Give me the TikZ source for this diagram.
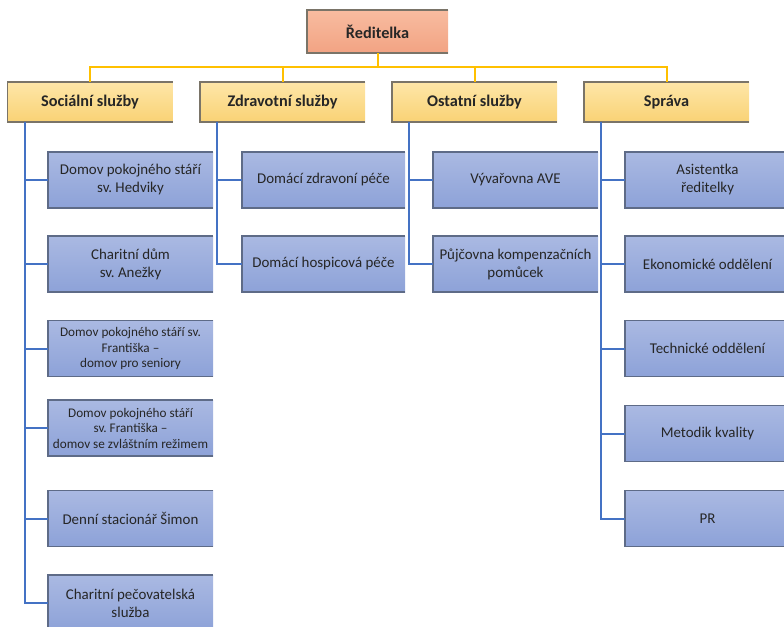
\documentclass[tikz,border=0pt]{standalone}
\usepackage{fontspec}
\setmainfont{Carlito}
\frenchspacing
\begin{document}
\begin{tikzpicture}[x=0.75pt,y=-0.75pt,
  every node/.style={inner sep=0pt, outer sep=0pt, text=black!85, align=center},
  topbox/.style={rectangle, minimum width=105.75pt, minimum height=32.25pt,
     top color=orgtop, bottom color=orgbot, font=\bfseries\fontsize{12.2}{14}\selectfont},
  headbox/.style={rectangle, minimum width=123.75pt, minimum height=30pt,
     top color=yeltop, bottom color=yelbot, font=\bfseries\fontsize{12.2}{14}\selectfont},
  subbox/.style={rectangle, minimum width=123.75pt, minimum height=42pt,
     top color=blutop, bottom color=blubot, font=\fontsize{11.2}{13.5}\selectfont},
  small/.style={font=\fontsize{9.9}{11.6}\selectfont},
  yel/.style={draw=yelline, line width=1.5pt},
  blu/.style={draw=bluline, line width=1.5pt}
]
\definecolor{orgtop}{HTML}{F8BCA0}
\definecolor{orgbot}{HTML}{F2A383}
\definecolor{yeltop}{HTML}{FEE6A8}
\definecolor{yelbot}{HTML}{F9D275}
\definecolor{blutop}{HTML}{AAB9E2}
\definecolor{blubot}{HTML}{8DA2D8}
\definecolor{yelline}{HTML}{FFC000}
\definecolor{bluline}{HTML}{4472C4}
\definecolor{bordr}{HTML}{7A7468}
\definecolor{bordb}{HTML}{5E6B87}

\useasboundingbox (0,0) rectangle (784,626);
\begin{scope}
\clip (0,0) rectangle (784,626);

% top
\node[topbox] (top) at (377.5,31.5) {Ředitelka};

% level 1
\node[headbox] (soc) at (90,102) {Sociální služby};
\node[headbox] (zdr) at (282.5,102) {Zdravotní služby};
\node[headbox] (ost) at (474.5,102) {Ostatní služby};
\node[headbox] (spr) at (666.5,102) {Správa};

% social
\node[subbox] (s1) at (130.5,180) {Domov pokojného stáří\\sv. Hedviky};
\node[subbox] (s2) at (130.5,264) {Charitní dům\\sv. Anežky};
\node[subbox,small] (s3) at (130.5,348.5) {Domov pokojného stáří sv.\\Františka --\\domov pro seniory};
\node[subbox,small] (s4) at (130.5,428) {Domov pokojného stáří\\sv. Františka --\\domov se zvláštním režimem};
\node[subbox] (s5) at (130.5,518.5) {Denní stacionář Šimon};
\node[subbox] (s6) at (130.5,603) {Charitní pečovatelská\\služba};

% health
\node[subbox, minimum width=122.25pt] (z1) at (323.5,180) {Domácí zdravoní péče};
\node[subbox, minimum width=122.25pt] (z2) at (323.5,264) {Domácí hospicová péče};

% other
\node[subbox] (o1) at (515.5,180) {Vývařovna AVE};
\node[subbox] (o2) at (515.5,264) {Půjčovna kompenzačních\\pomůcek};

% administration
\node[subbox] (a1) at (707.5,180) {Asistentka\\ředitelky};
\node[subbox] (a2) at (707.5,264) {Ekonomické oddělení};
\node[subbox] (a3) at (707.5,348.5) {Technické oddělení};
\node[subbox] (a4) at (707.5,433.5) {Metodik kvality};
\node[subbox] (a5) at (707.5,518.5) {PR};

% borders (top, left, bottom)
\draw[bordr, line width=0.9pt] (top.north east) -- (top.north west) -- (top.south west) -- (top.south east);
\foreach \n in {soc,zdr,ost,spr}
  \draw[bordr, line width=0.9pt] (\n.north east) -- (\n.north west) -- (\n.south west) -- (\n.south east);
\foreach \n in {s1,s2,s3,s4,s5,s6,z1,z2,o1,o2,a1,a2,a3,a4,a5}
  \draw[bordb, line width=0.9pt] (\n.north east) -- (\n.north west) -- (\n.south west) -- (\n.south east);

% yellow connectors
\foreach \n in {soc,zdr,ost,spr}
  \draw[yel] (top.south) -- ++(0,14) -| (\n.north);

% blue connectors
\foreach \n in {s1,s2,s3,s4,s5,s6}
  \draw[blu] ([xshift=12.75pt]soc.south west) |- (\n.west);
\foreach \n in {z1,z2}
  \draw[blu] ([xshift=12.75pt]zdr.south west) |- (\n.west);
\foreach \n in {o1,o2}
  \draw[blu] ([xshift=12.75pt]ost.south west) |- (\n.west);
\foreach \n in {a1,a2,a3,a4,a5}
  \draw[blu] ([xshift=12.75pt]spr.south west) |- (\n.west);
\end{scope}
\end{tikzpicture}
\end{document}
